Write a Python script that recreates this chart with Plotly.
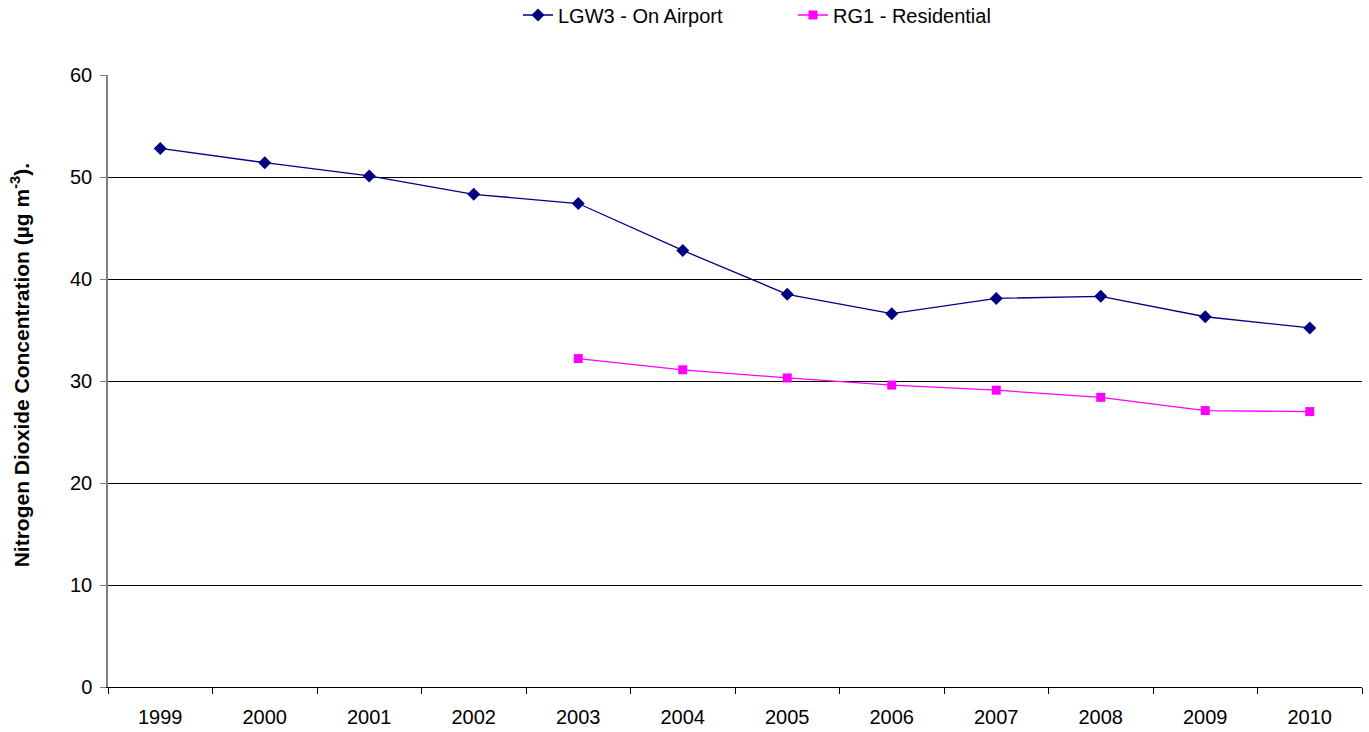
import plotly.graph_objects as go

years = ["1999", "2000", "2001", "2002", "2003", "2004", "2005", "2006", "2007", "2008", "2009", "2010"]
lgw3_on_airport = [52.8, 51.4, 50.1, 48.3, 47.4, 42.8, 38.5, 36.6, 38.1, 38.3, 36.3, 35.2]
rg1_years = ["2003", "2004", "2005", "2006", "2007", "2008", "2009", "2010"]
rg1_residential = [32.2, 31.1, 30.3, 29.6, 29.1, 28.4, 27.1, 27.0]
y_ticks = [0, 10, 20, 30, 40, 50, 60]

W, H = 1369, 732

fig = go.Figure()
fig.add_trace(go.Scatter(
    x=years, y=lgw3_on_airport, name="LGW3 - On Airport",
    mode="lines+markers", legend="legend", showlegend=True,
    line=dict(color="#000080", width=1.3),
    marker=dict(symbol="diamond", size=10, color="#000080"),
))
fig.add_trace(go.Scatter(
    x=rg1_years, y=rg1_residential, name="RG1 - Residential",
    mode="lines+markers", legend="legend2", showlegend=True,
    line=dict(color="#FF00FF", width=1.3),
    marker=dict(symbol="square", size=9, color="#FF00FF"),
))

legend_style = dict(orientation="h", xref="container", yref="container",
                    xanchor="left", yanchor="middle", y=1 - 15 / H,
                    font=dict(size=20), bgcolor="rgba(0,0,0,0)")

fig.update_layout(
    width=W, height=H,
    margin=dict(l=108, r=7, t=75, b=45, autoexpand=False),
    paper_bgcolor="white", plot_bgcolor="white",
    showlegend=True,
    font=dict(family="Liberation Sans, Arial, sans-serif", size=20, color="black"),
    legend=dict(x=518 / W, **legend_style),
    legend2=dict(x=793 / W, **legend_style),
    xaxis=dict(
        type="category", categoryorder="array", categoryarray=years,
        tickson="boundaries", ticks="outside", ticklen=6, tickcolor="#000000",
        showline=True, linecolor="#000000", linewidth=1,
        showgrid=False, tickfont=dict(size=20), range=[-0.5, 11.5],
        ticklabelstandoff=12,
    ),
    yaxis=dict(
        range=[0, 60], tickvals=y_ticks, ticks="outside", ticklen=6,
        tickcolor="#808080", showline=True, linecolor="#808080", linewidth=1.5,
        showgrid=True, gridcolor="#000000", gridwidth=1, zeroline=False,
        tickfont=dict(size=20), ticklabelstandoff=4,
    ),
    annotations=[dict(
        text="<b>Nitrogen Dioxide Concentration (µg m<sup>-3</sup>).</b>",
        xref="paper", yref="paper", x=-0.0705, y=0.525,
        xanchor="center", yanchor="middle", textangle=-90,
        showarrow=False, font=dict(size=21),
    )],
)

fig.write_html("out.html")
